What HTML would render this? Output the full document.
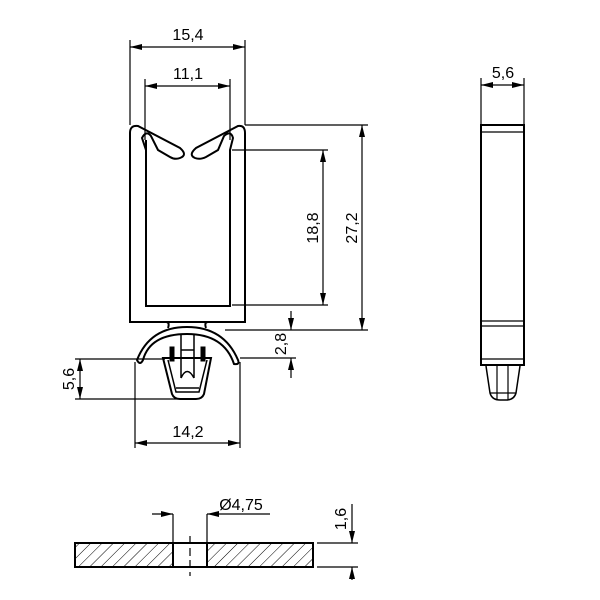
<!DOCTYPE html>
<html><head><meta charset="utf-8"><style>
html,body{margin:0;padding:0;background:#fff}
svg{display:block}
text{font-family:"Liberation Sans",sans-serif;font-size:16px;fill:#000}
</style></head><body>
<svg width="600" height="600" viewBox="0 0 600 600" xmlns="http://www.w3.org/2000/svg">
<defs>
<marker id="a" viewBox="0 0 12 6" refX="12" refY="3" markerWidth="12" markerHeight="6" orient="auto-start-reverse" markerUnits="userSpaceOnUse"><path d="M0,0 L12,3 L0,6 z" fill="#000"/></marker>
<pattern id="h" width="8" height="8" patternUnits="userSpaceOnUse" patternTransform="rotate(45)"><line x1="0" y1="0" x2="0" y2="8" stroke="#000" stroke-width="1"/></pattern>
</defs>
<g fill="none" stroke="#000" stroke-width="1.2">
<line x1="130" y1="40" x2="130" y2="125"/><line x1="245" y1="40" x2="245" y2="125"/>
<line x1="130" y1="47" x2="245" y2="47" marker-start="url(#a)" marker-end="url(#a)"/>
<line x1="145" y1="79" x2="145" y2="140"/><line x1="230" y1="79" x2="230" y2="140"/>
<line x1="145" y1="86" x2="230" y2="86" marker-start="url(#a)" marker-end="url(#a)"/>
<line x1="232" y1="150" x2="328" y2="150"/><line x1="232" y1="305" x2="328" y2="305"/>
<line x1="323" y1="150" x2="323" y2="305" marker-start="url(#a)" marker-end="url(#a)"/>
<line x1="245" y1="125" x2="368" y2="125"/><line x1="225" y1="330" x2="368" y2="330"/>
<line x1="362" y1="125" x2="362" y2="330" marker-start="url(#a)" marker-end="url(#a)"/>
<line x1="240" y1="358" x2="296" y2="358"/>
<line x1="291" y1="311" x2="291" y2="330" marker-end="url(#a)"/>
<line x1="291" y1="378" x2="291" y2="358" marker-end="url(#a)"/>
<line x1="75" y1="359" x2="165" y2="359"/><line x1="75" y1="399" x2="180" y2="399"/>
<line x1="80" y1="359" x2="80" y2="399" marker-start="url(#a)" marker-end="url(#a)"/>
<line x1="135" y1="362" x2="135" y2="448"/><line x1="240" y1="362" x2="240" y2="448"/>
<line x1="135" y1="443" x2="240" y2="443" marker-start="url(#a)" marker-end="url(#a)"/>
<line x1="481" y1="78" x2="481" y2="125"/><line x1="524" y1="78" x2="524" y2="125"/>
<line x1="481" y1="85" x2="524" y2="85" marker-start="url(#a)" marker-end="url(#a)"/>
<path d="M130,322 L130,133 Q130,125 138,126 L180,148 Q188,155 180,158 Q175,160 170,157 L158,150 L151,136 Q146,130 142,138 L146,150 L146,306 L230,306 L230,150 L233,138 Q231,130 224,136 L218,150 L206,157 Q200,160 195,158 Q188,155 196,148 L238,126 Q245,125 245,133 L245,322 Z" stroke-width="2"/>
<line x1="146" y1="150" x2="146" y2="140" stroke-width="2"/>
<path d="M166,322 Q170,322 168,328 M208,322 Q204,322 206,328" stroke-width="2"/>
<path d="M137,360 Q150,327 187,327 Q224,327 238,360 Q240,365 234,364 Q224,334 187,334 Q150,334 143,360 Q140,366 137,360 Z" stroke-width="2"/>
<path d="M163,358 L211,358 L204,394 Q202,399 196,399 L180,399 Q174,399 172,394 Z" stroke-width="2"/>
<path d="M168,360 L176,392 L199,392 L207,360" stroke-width="1.5"/>
<path d="M181,334 L181,378 M194,334 L194,378 M181,350 L194,350 M181,378 Q187,365 194,378 M176,388 L199,388" stroke-width="1.5"/>
<rect x="170" y="347" width="4" height="14" fill="#000" stroke-width="1"/>
<rect x="201" y="347" width="4" height="14" fill="#000" stroke-width="1"/>
<rect x="481" y="125" width="43" height="240" stroke-width="2"/>
<line x1="481" y1="132" x2="524" y2="132"/><line x1="481" y1="321" x2="524" y2="321"/><line x1="481" y1="326" x2="524" y2="326"/><line x1="481" y1="359" x2="524" y2="359"/>
<path d="M486,366 L490,393 Q492,400 500,400 L506,400 Q514,400 516,393 L520,366" stroke-width="1.5"/>
<path d="M497,366 L497,400 M508,366 L508,400 M490,393 L516,393" stroke-width="1.2"/>
<rect x="75" y="543" width="98" height="24" fill="url(#h)" stroke-width="2"/>
<rect x="207" y="543" width="106" height="24" fill="url(#h)" stroke-width="2"/>
<line x1="173" y1="543" x2="207" y2="543" stroke-width="2"/><line x1="173" y1="567" x2="207" y2="567" stroke-width="2"/>
<line x1="190" y1="536" x2="190" y2="576" stroke-dasharray="8,4"/>
<line x1="173" y1="514" x2="173" y2="543"/><line x1="207" y1="514" x2="207" y2="543"/>
<line x1="152" y1="514" x2="173" y2="514" marker-end="url(#a)"/>
<line x1="270" y1="514" x2="207" y2="514" marker-end="url(#a)"/>
<line x1="317" y1="543" x2="358" y2="543"/><line x1="317" y1="567" x2="358" y2="567"/>
<line x1="352" y1="504" x2="352" y2="543" marker-end="url(#a)"/>
<line x1="352" y1="580" x2="352" y2="567" marker-end="url(#a)"/>
</g>
<text x="188" y="40" text-anchor="middle">15,4</text>
<text x="188" y="79" text-anchor="middle">11,1</text>
<text x="503" y="78" text-anchor="middle">5,6</text>
<text x="188" y="437" text-anchor="middle">14,2</text>
<text x="241" y="510" text-anchor="middle">Ø4,75</text>
<text transform="translate(318,228) rotate(-90)" text-anchor="middle">18,8</text>
<text transform="translate(357,228) rotate(-90)" text-anchor="middle">27,2</text>
<text transform="translate(286,344) rotate(-90)" text-anchor="middle">2,8</text>
<text transform="translate(74,379) rotate(-90)" text-anchor="middle">5,6</text>
<text transform="translate(346,519) rotate(-90)" text-anchor="middle">1,6</text>
</svg>
</body></html>
